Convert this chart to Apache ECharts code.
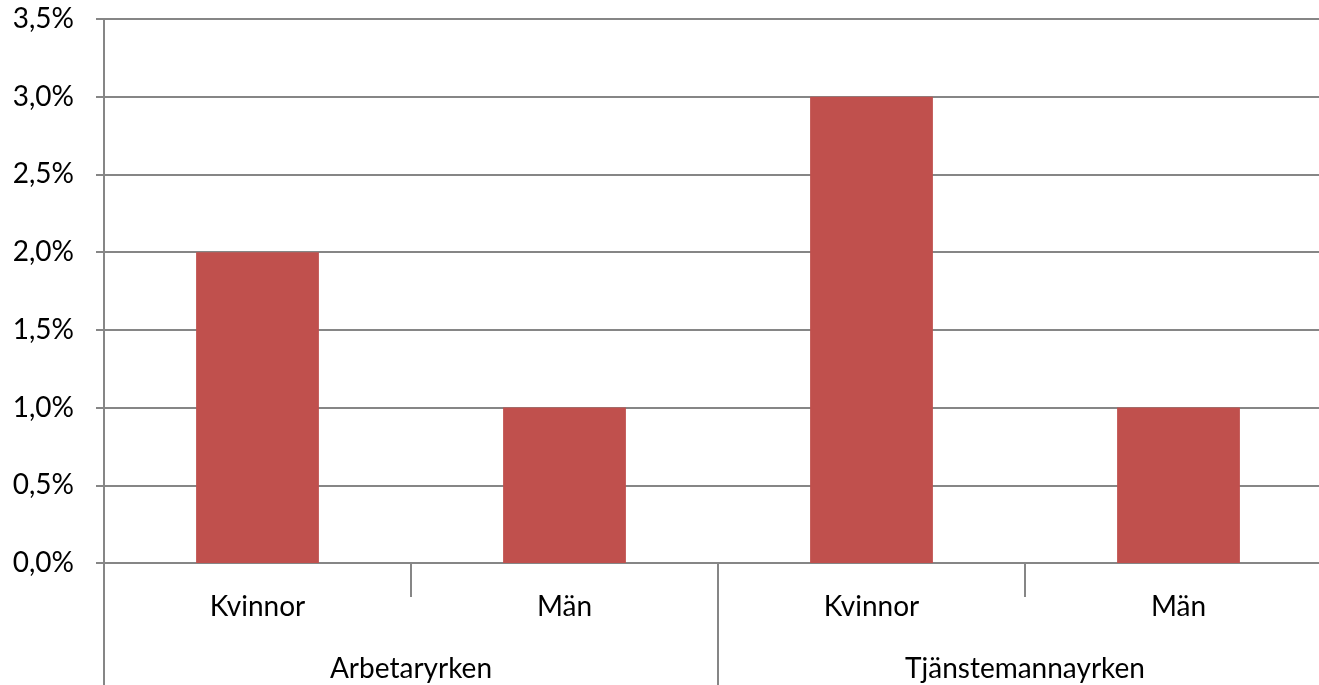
<!DOCTYPE html>
<html><head><meta charset="utf-8">
<script src="https://cdn.jsdelivr.net/npm/echarts@6/dist/echarts.min.js"></script>
<style>html,body{margin:0;padding:0;background:#fff}#c{width:1319px;height:685px}</style>
</head><body><div id="c"></div>
<script>
const categories = ['Kvinnor', 'Män', 'Kvinnor', 'Män'];
const groups = ['Arbetaryrken', 'Tjänstemannayrken'];
const values = [2.0, 1.0, 3.0, 1.0];

const gray = '#868686';
const font = 'Lato';
const fs = 28;
const chart = echarts.init(document.getElementById('c'));
chart.setOption({
  animation: false,
  grid: { left: 104, top: 19, width: 1228, height: 544, containLabel: false, outerBoundsMode: 'none' },
  xAxis: [{
    type: 'category', data: categories, position: 'bottom',
    axisLine: { show: true, lineStyle: { color: gray, width: 2 } },
    axisTick: { show: true, length: 34, lineStyle: { color: gray, width: 2 } },
    axisLabel: { color: '#000', fontFamily: font, fontSize: fs, margin: 30 }
  }, {
    type: 'category', data: groups, position: 'bottom',
    axisLine: { show: false },
    axisTick: { show: true, length: 124, lineStyle: { color: gray, width: 2 } },
    axisLabel: { color: '#000', fontFamily: font, fontSize: fs, margin: 92 }
  }],
  yAxis: {
    type: 'value', min: 0, max: 3.5, interval: 0.5,
    axisLine: { show: true, lineStyle: { color: gray, width: 2 } },
    axisTick: { show: true, length: 8, lineStyle: { color: gray, width: 2 } },
    splitLine: { show: true, lineStyle: { color: gray, width: 2 } },
    axisLabel: { color: '#000', fontFamily: font, fontSize: fs, margin: 30,
      formatter: v => v.toFixed(1).replace('.', ',') + '%' }
  },
  series: [{
    type: 'bar', data: values, xAxisIndex: 0, barWidth: '40%',
    itemStyle: { color: '#C0504D' }
  }]
});
</script></body></html>
